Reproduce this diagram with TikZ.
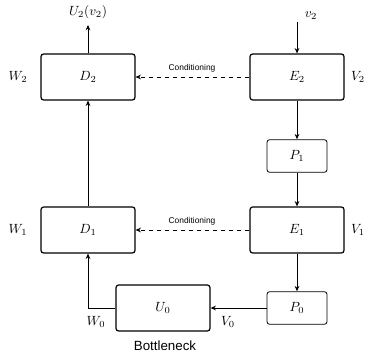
\documentclass[tikz,border=0pt]{standalone}
\usepackage{fontspec}
\newfontfamily\arialf{Liberation Sans}
\usetikzlibrary{arrows.meta}
\begin{document}
\begin{tikzpicture}[x=0.75pt,y=-0.75pt,
  bigbox/.style={draw,rounded corners=2pt,line width=0.9pt,minimum width=70.5pt,minimum height=34.5pt,inner sep=0pt},
  smallbox/.style={draw,rounded corners=2pt,line width=0.6pt,minimum width=45pt,minimum height=24.5pt,inner sep=0pt},
  arr/.style={-{Stealth[length=4pt,width=3.5pt]},line width=0.6pt},
  darr/.style={arr,dashed},
  lbl/.style={inner sep=1pt},
  cond/.style={font=\arialf\fontsize{6.3}{7}\selectfont,inner sep=0pt}]
\useasboundingbox (0,0) rectangle (370,356);
\node[bigbox] (D2) at (88,77) {$D_2$};
\node[bigbox] (E2) at (297,77) {$E_2$};
\node[smallbox] (P1) at (297,156) {$P_1$};
\node[bigbox] (E1) at (297,230) {$E_1$};
\node[bigbox] (D1) at (88,230) {$D_1$};
\node[smallbox] (P0) at (297,308) {$P_0$};
\node[bigbox] (U0) at (163,308) {$U_0$};
\node[lbl] (U2) at (88,12) {$U_2(v_2)$};
\coordinate (U2b) at (88,25);
\node[lbl] (v2) at (311,16) {$v_2$};
\coordinate (v2s) at (297,22);
\node[lbl] (W2) at (18,77) {$W_2$};
\node[lbl] (V2) at (358,77) {$V_2$};
\node[lbl] (W1) at (18,230) {$W_1$};
\node[lbl] (V1) at (358,230) {$V_1$};
\node[lbl] (W0) at (96,322) {$W_0$};
\node[lbl] (V0) at (228,322) {$V_0$};
\node[cond] (C2) at (192,68) {Conditioning};
\node[cond] (C1) at (192,221) {Conditioning};
\node[font=\arialf,inner sep=0pt] (B) at (165,346) {Bottleneck};
\draw[arr] (D2.north) -- (U2b);
\draw[arr] (v2s) -- (E2.north);
\draw[darr] (E2.west) -- (D2.east);
\draw[darr] (E1.west) -- (D1.east);
\draw[arr] (E2.south) -- (P1.north);
\draw[arr] (P1.south) -- (E1.north);
\draw[arr] (E1.south) -- (P0.north);
\draw[arr] (D1.north) -- (D2.south);
\draw[arr] (P0.west) -- (U0.east);
\draw[arr] (U0.west) -| (D1.south);
\end{tikzpicture}
\end{document}
